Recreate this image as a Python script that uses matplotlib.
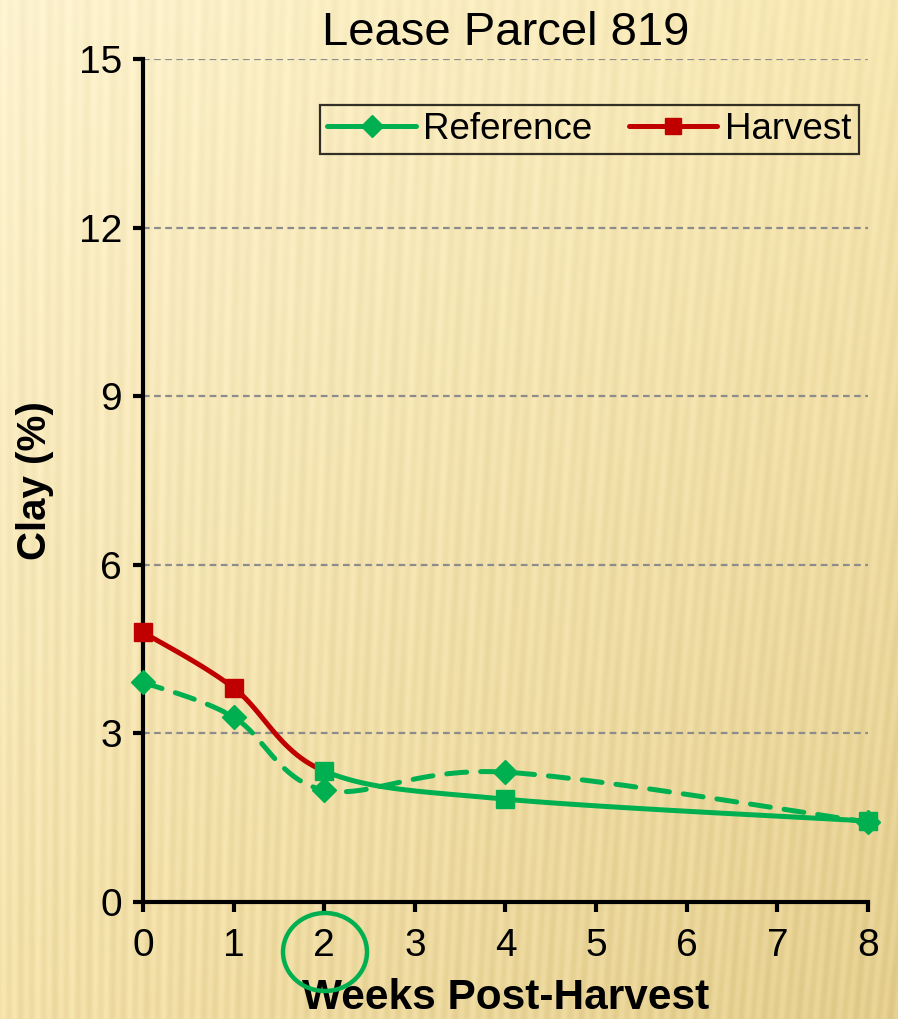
import numpy as np
import matplotlib
matplotlib.use("Agg")
import matplotlib.pyplot as plt
from matplotlib import font_manager
from matplotlib.patches import Ellipse
from matplotlib.lines import Line2D

# ---- data -------------------------------------------------------------
weeks = [0, 1, 2, 4, 8]
reference = [3.91, 3.29, 1.99, 2.31, 1.42]
harvest = [4.80, 3.81, 2.33, 1.83, 1.44]
harvest_colors = ["#C00000", "#C00000", "#00B050", "#00B050", "#00B050"]
x_ticks = [0, 1, 2, 3, 4, 5, 6, 7, 8]
y_ticks = [0, 3, 6, 9, 12, 15]
title = "Lease Parcel 819"
x_label = "Weeks Post-Harvest"
y_label = "Clay (%)"

GREEN = "#00B050"
RED = "#C00000"

available = {f.name for f in font_manager.fontManager.ttflist}
family = "Liberation Sans Narrow" if "Liberation Sans Narrow" in available else "Liberation Sans"
plt.rcParams["font.family"] = [family, "DejaVu Sans"]


def smooth_segments(xs, ys, n=40):
    """Bezier smoothing between consecutive points; returns one curve per segment."""
    pts = np.column_stack([xs, ys]).astype(float)
    padded = np.vstack([pts[0], pts, pts[-1]])
    t = np.linspace(0, 1, n)[:, None]
    segs = []
    for i in range(len(pts) - 1):
        p0, p3 = padded[i + 1], padded[i + 2]
        c1 = p0 + (padded[i + 2] - padded[i]) / 6.0
        c2 = p3 - (padded[i + 3] - padded[i + 1]) / 6.0
        curve = ((1 - t) ** 3) * p0 + 3 * ((1 - t) ** 2) * t * c1 + 3 * (1 - t) * t ** 2 * c2 + t ** 3 * p3
        segs.append(curve)
    return segs


W, H = 898, 1019
fig = plt.figure(figsize=(W / 100, H / 100), dpi=100)

# ---- textured golden backdrop ------------------------------------------
bg = fig.add_axes([0, 0, 1, 1], zorder=-10)
yy, xx = np.mgrid[0:H, 0:W]
u = xx / (W - 1)
v = yy / (H - 1)
tl = np.array([252, 242, 206])
tr = np.array([247, 231, 178])
bl = np.array([243, 224, 168])
br = np.array([228, 206, 142])
base = ((1 - u)[..., None] * (1 - v)[..., None] * tl + u[..., None] * (1 - v)[..., None] * tr
        + (1 - u)[..., None] * v[..., None] * bl + u[..., None] * v[..., None] * br)
phase = 2 * np.pi * (xx + 0.12 * yy * u) / 13.0
stripes = (3.0 + 3.0 * v) * np.sin(phase) + 2.0 * np.sin(2 * np.pi * xx / 31.0)
img = np.clip(base + stripes[..., None] * np.array([0.8, 0.9, 1.2]), 0, 255) / 255.0
bg.imshow(img, aspect="auto", interpolation="bilinear")
bg.axis("off")

# ---- main chart ----------------------------------------------------------
ax = fig.add_axes([143 / W, (H - 902) / H, (868 - 143) / W, (902 - 59) / H])
ax.patch.set_alpha(0)
ax.set_xlim(0, 8)
ax.set_ylim(0, 15)

ax.set_yticks(y_ticks)
ax.set_xticks(x_ticks)
ax.yaxis.grid(True, color="#8C8C8C", linestyle=(0, (3, 2)), linewidth=1.6)
ax.set_axisbelow(True)
for side in ("top", "right"):
    ax.spines[side].set_visible(False)
for side in ("left", "bottom"):
    ax.spines[side].set_linewidth(3)
    ax.spines[side].set_color("black")
ax.tick_params(axis="both", direction="out", length=7, width=3, labelsize=28, colors="black")
ax.tick_params(axis="x", pad=12)
ax.tick_params(axis="y", pad=8)

# reference series: dashed smooth green with diamonds
ref_segs = smooth_segments(weeks, reference)
ref_curve = np.vstack(ref_segs)
ax.plot(ref_curve[:, 0], ref_curve[:, 1], color=GREEN, lw=3.6,
        linestyle=(0, (4.0, 2.8)), dash_capstyle="round", clip_on=False, zorder=3)
ax.plot(weeks, reference, linestyle="none", marker="D", markersize=12,
        color=GREEN, clip_on=False, zorder=4)

# harvest series: smooth solid line, colour per segment
harv_segs = smooth_segments(weeks, harvest)
for seg, col in zip(harv_segs, harvest_colors[:-1]):
    ax.plot(seg[:, 0], seg[:, 1], color=col, lw=3.6, solid_capstyle="round",
            clip_on=False, zorder=5)
for x, y, col in zip(weeks, harvest, harvest_colors):
    ax.plot([x], [y], linestyle="none", marker="s", markersize=13.5,
            color=col, clip_on=False, zorder=6)

ax.set_title(title, fontsize=34, pad=10)
ax.set_xlabel(x_label, fontsize=30.5, fontweight="bold", labelpad=10)
ax.set_ylabel(y_label, fontsize=29, fontweight="bold", labelpad=18)

handles = [
    Line2D([], [], color=GREEN, lw=3.6, marker="D", markersize=11, solid_capstyle="round"),
    Line2D([], [], color=RED, lw=3.6, marker="s", markersize=12, solid_capstyle="round"),
]
leg = ax.legend(handles, ["Reference", "Harvest"], loc="upper right",
                bbox_to_anchor=(0.987, 0.946), ncol=2, fontsize=26.5, frameon=True,
                fancybox=False, edgecolor="black", handlelength=2.4, handletextpad=0.2,
                columnspacing=1.0, borderpad=0.2, borderaxespad=0.0)
leg.get_frame().set_facecolor("none")
leg.get_frame().set_linewidth(1.6)

# highlight ring around the week-2 tick label
fig.patches.append(Ellipse((325 / W, (H - 952) / H), 84 / W, 78 / H,
                           transform=fig.transFigure, fill=False,
                           edgecolor=GREEN, linewidth=3.2))

fig.savefig("out.png", dpi=100)
